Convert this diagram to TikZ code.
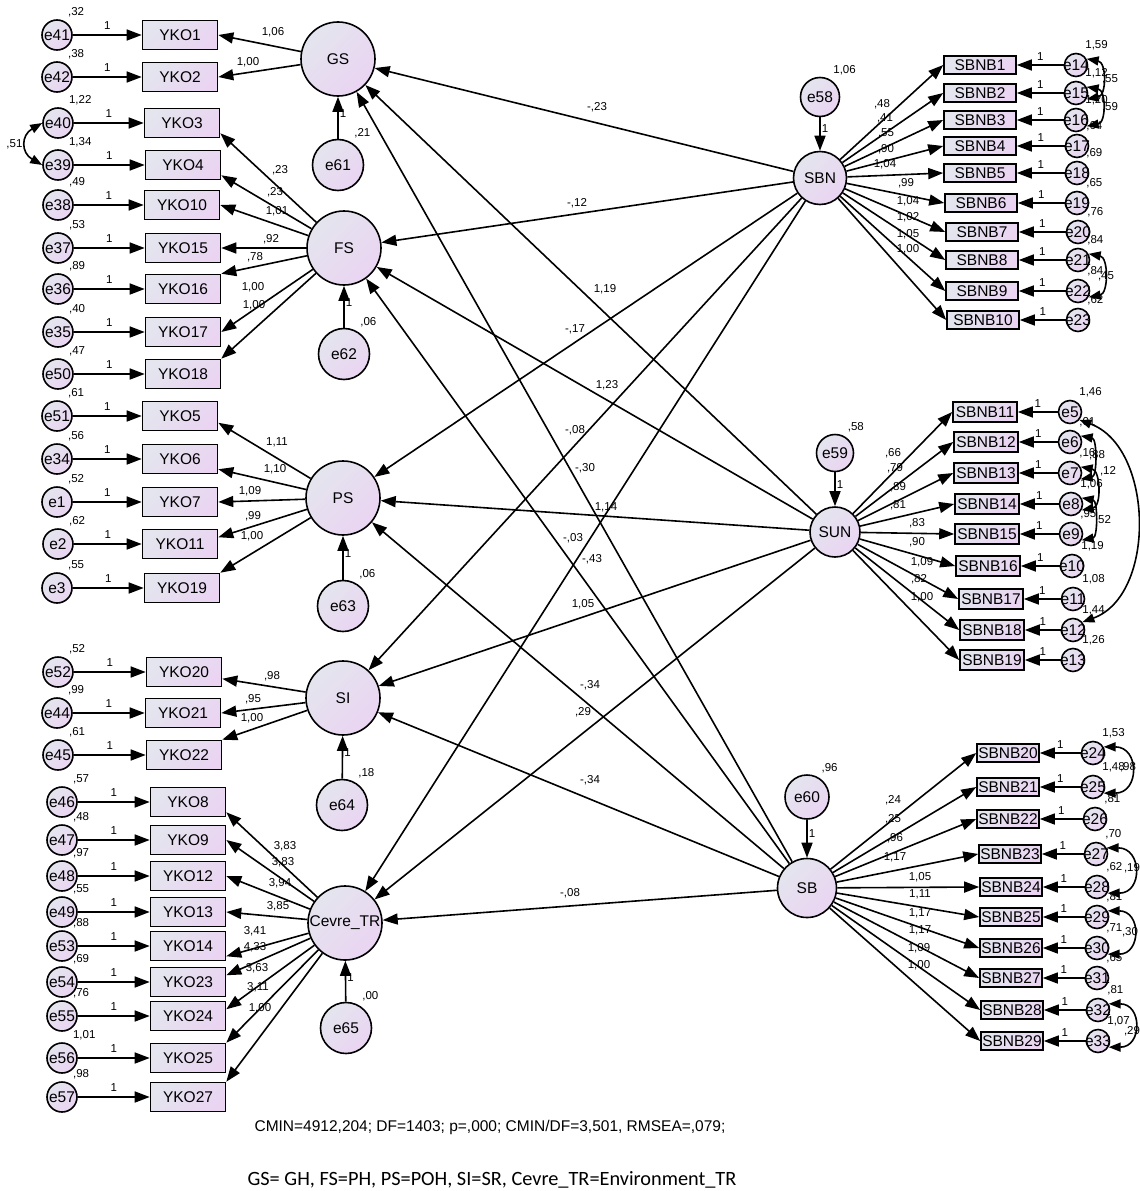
\documentclass[tikz,border=0pt]{standalone}
\usepackage{fontspec}
\setmainfont{Liberation Sans}
\newfontfamily\keyfont{Carlito}
\usetikzlibrary{arrows.meta,shapes}
\definecolor{fillL}{HTML}{E4E5EE}
\definecolor{fillR}{HTML}{EAD4F2}

\begin{document}
\begin{tikzpicture}[x=1pt, y=-1pt,
    latent/.style = {circle, draw, line width=1.6pt, top color=fillL, bottom color=fillR, shading angle=45, inner sep=0pt, font=\fontsize{15.5}{17}\selectfont},
    err/.style = {latent, minimum size=30pt, execute at begin node={\hbox to 0pt\bgroup\hss}, execute at end node={\hss\egroup}},
    errs/.style = {err, minimum size=23pt},
    ind/.style = {rectangle, draw, line width=1.6pt, top color=fillL, bottom color=fillR, shading angle=45, minimum width=75pt, minimum height=29pt, inner sep=1pt, font=\fontsize{15.5}{17}\selectfont},
    indr/.style = {ind, minimum width=72pt, minimum height=18pt, inner sep=0.5pt},
    inds/.style = {ind, minimum width=64pt, minimum height=20pt, inner sep=0.5pt},
    indt/.style = {ind, minimum width=62pt, minimum height=18pt, inner sep=0.5pt},
    lab/.style = {inner sep=1pt, font=\fontsize{11.5}{13}\selectfont},
    vlab/.style = {lab, anchor=south west, label distance=4pt, execute at begin node={}, execute at end node={}},
    arrow/.style = {line width=1.6pt, ->, >={Triangle[length=15pt,width=11pt]}},
    cov/.style = {line width=1.6pt, <->, >={Triangle[length=12pt,width=9pt]}}
]
\path[use as bounding box] (0,0) rectangle (1140,1191);

% Latent variables
\node[latent, minimum size=74pt] (gs) at (338,59) {GS};
\node[latent, minimum size=74pt] (fs) at (344,248) {FS};
\node[latent, minimum size=74pt] (ps) at (343,498) {PS};
\node[latent, minimum size=74pt] (si) at (343,698) {SI};
\node[latent, minimum size=74pt] (cevre) at (345,923) {Cevre\_TR};
\node[latent, minimum size=53pt] (sbn) at (820,178) {SBN};
\node[latent, minimum size=50pt] (sun) at (835,532) {SUN};
\node[latent, minimum size=59pt] (sb) at (807,888) {SB};

% Disturbances
\node[err, minimum size=51pt, label={[vlab]60:,21}] (e61) at (338,165) {e61};
\node[err, minimum size=51pt, label={[vlab]60:,06}] (e62) at (344,354) {e62};
\node[err, minimum size=51pt, label={[vlab]60:,06}] (e63) at (343,606) {e63};
\node[err, minimum size=51pt, label={[vlab]60:,18}] (e64) at (342,805) {e64};
\node[err, minimum size=51pt, label={[vlab]60:,00}] (e65) at (346,1028) {e65};
\node[err, minimum size=39pt, label={[vlab]60:1,06}] (e58) at (820,97) {e58};
\node[err, minimum size=37pt, label={[vlab]60:,58}] (e59) at (835,453) {e59};
\node[err, minimum size=44pt, label={[vlab]60:,96}] (e60) at (807,797) {e60};

% GS indicators
\node[err, label={[vlab]60:,32}] (e41) at (57,35) {e41};
\node[ind] (yko1) at (180,35) {YKO1};
\node[err, label={[vlab]60:,38}] (e42) at (57,77) {e42};
\node[ind] (yko2) at (180,77) {YKO2};

% FS indicators
\node[err, label={[vlab]60:1,22}] (e40) at (58,123) {e40};
\node[ind] (yko3) at (182,123) {YKO3};
\node[err, label={[vlab]60:1,34}] (e39) at (58,165) {e39};
\node[ind] (yko4) at (183,165) {YKO4};
\node[err, label={[vlab]60:,49}] (e38) at (58,205) {e38};
\node[ind] (yko10) at (182,205) {YKO10};
\node[err, label={[vlab]60:,53}] (e37) at (58,248) {e37};
\node[ind] (yko15) at (183,248) {YKO15};
\node[err, label={[vlab]60:,89}] (e36) at (58,289) {e36};
\node[ind] (yko16) at (183,289) {YKO16};
\node[err, label={[vlab]60:,40}] (e35) at (58,332) {e35};
\node[ind] (yko17) at (183,332) {YKO17};
\node[err, label={[vlab]60:,47}] (e50) at (58,374) {e50};
\node[ind] (yko18) at (183,374) {YKO18};

% PS indicators
\node[err, label={[vlab]60:,61}] (e51) at (57,416) {e51};
\node[ind] (yko5) at (180,416) {YKO5};
\node[err, label={[vlab]60:,56}] (e34) at (57,459) {e34};
\node[ind] (yko6) at (180,459) {YKO6};
\node[err, label={[vlab]60:,52}] (e1) at (57,502) {e1};
\node[ind] (yko7) at (180,502) {YKO7};
\node[err, label={[vlab]60:,62}] (e2) at (58,544) {e2};
\node[ind] (yko11) at (180,544) {YKO11};
\node[err, label={[vlab]60:,55}] (e3) at (57,588) {e3};
\node[ind] (yko19) at (182,588) {YKO19};

% SI indicators
\node[err, label={[vlab]60:,52}] (e52) at (58,672) {e52};
\node[ind] (yko20) at (184,672) {YKO20};
\node[err, label={[vlab]60:,99}] (e44) at (57,713) {e44};
\node[ind] (yko21) at (183,713) {YKO21};
\node[err, label={[vlab]60:,61}] (e45) at (58,755) {e45};
\node[ind] (yko22) at (184,755) {YKO22};

% Cevre_TR indicators
\node[err, label={[vlab]60:,57}] (e46) at (62,802) {e46};
\node[ind] (yko8) at (188,802) {YKO8};
\node[err, label={[vlab]60:,48}] (e47) at (62,840) {e47};
\node[ind] (yko9) at (188,840) {YKO9};
\node[err, label={[vlab]60:,97}] (e48) at (62,876) {e48};
\node[ind] (yko12) at (188,876) {YKO12};
\node[err, label={[vlab]60:,55}] (e49) at (62,912) {e49};
\node[ind] (yko13) at (188,912) {YKO13};
\node[err, label={[vlab]60:,88}] (e53) at (62,946) {e53};
\node[ind] (yko14) at (188,946) {YKO14};
\node[err, label={[vlab]60:,69}] (e54) at (62,982) {e54};
\node[ind] (yko23) at (188,982) {YKO23};
\node[err, label={[vlab]60:,76}] (e55) at (62,1016) {e55};
\node[ind] (yko24) at (188,1016) {YKO24};
\node[err, label={[vlab]60:1,01}] (e56) at (62,1058) {e56};
\node[ind] (yko25) at (188,1058) {YKO25};
\node[err, label={[vlab]60:,98}] (e57) at (62,1097) {e57};
\node[ind] (yko27) at (188,1097) {YKO27};

% SBN indicators
\node[indr] (sbnb1) at (980,65) {SBNB1};
\node[errs, label={[vlab]60:1,59}] (e14) at (1076,65) {e14};
\node[indr] (sbnb2) at (980,93) {SBNB2};
\node[errs, label={[vlab]60:1,12}] (e15) at (1076,93) {e15};
\node[indr] (sbnb3) at (980,120) {SBNB3};
\node[errs, label={[vlab]60:1,20}] (e16) at (1076,120) {e16};
\node[indr] (sbnb4) at (980,146) {SBNB4};
\node[errs, label={[vlab]60:,64}] (e17) at (1077,146) {e17};
\node[indr] (sbnb5) at (980,173) {SBNB5};
\node[errs, label={[vlab]60:,69}] (e18) at (1077,173) {e18};
\node[indr] (sbnb6) at (981,203) {SBNB6};
\node[errs, label={[vlab]60:,65}] (e19) at (1077,203) {e19};
\node[indr] (sbnb7) at (982,232) {SBNB7};
\node[errs, label={[vlab]60:,76}] (e20) at (1078,232) {e20};
\node[indr] (sbnb8) at (982,260) {SBNB8};
\node[errs, label={[vlab]60:,84}] (e21) at (1078,260) {e21};
\node[indr] (sbnb9) at (982,291) {SBNB9};
\node[errs, label={[vlab]60:,84}] (e22) at (1078,291) {e22};
\node[indr] (sbnb10) at (983,320) {SBNB10};
\node[errs, label={[vlab]60:,62}] (e23) at (1078,320) {e23};

% SUN indicators
\node[inds] (sbnb11) at (985,412) {SBNB11};
\node[errs, label={[vlab]60:1,46}] (e5) at (1070,412) {e5};
\node[inds] (sbnb12) at (986,442) {SBNB12};
\node[errs, label={[vlab]60:,01}] (e6) at (1070,442) {e6};
\node[inds] (sbnb13) at (986,473) {SBNB13};
\node[errs, label={[vlab]60:,16}] (e7) at (1070,473) {e7};
\node[inds] (sbnb14) at (987,504) {SBNB14};
\node[errs, label={[vlab]60:1,06}] (e8) at (1071,504) {e8};
\node[inds] (sbnb15) at (987,534) {SBNB15};
\node[errs, label={[vlab]60:,95}] (e9) at (1071,534) {e9};
\node[inds] (sbnb16) at (988,566) {SBNB16};
\node[errs, label={[vlab]60:1,19}] (e10) at (1072,566) {e10};
\node[inds] (sbnb17) at (991,599) {SBNB17};
\node[errs, label={[vlab]60:1,08}] (e11) at (1073,599) {e11};
\node[inds] (sbnb18) at (992,630) {SBNB18};
\node[errs, label={[vlab]60:1,44}] (e12) at (1073,630) {e12};
\node[inds] (sbnb19) at (992,660) {SBNB19};
\node[errs, label={[vlab]60:1,26}] (e13) at (1073,660) {e13};

% SB indicators
\node[indt] (sbnb20) at (1008,753) {SBNB20};
\node[errs, label={[vlab]60:1,53}] (e24) at (1093,753) {e24};
\node[indt] (sbnb21) at (1008,787) {SBNB21};
\node[errs, label={[vlab]60:1,48}] (e25) at (1093,787) {e25};
\node[indt] (sbnb22) at (1008,819) {SBNB22};
\node[errs, label={[vlab]60:,81}] (e26) at (1095,819) {e26};
\node[indt] (sbnb23) at (1010,854) {SBNB23};
\node[errs, label={[vlab]60:,70}] (e27) at (1096,854) {e27};
\node[indt] (sbnb24) at (1011,887) {SBNB24};
\node[errs, label={[vlab]60:,62}] (e28) at (1097,887) {e28};
\node[indt] (sbnb25) at (1011,917) {SBNB25};
\node[errs, label={[vlab]60:,81}] (e29) at (1097,917) {e29};
\node[indt] (sbnb26) at (1011,948) {SBNB26};
\node[errs, label={[vlab]60:,71}] (e30) at (1097,948) {e30};
\node[indt] (sbnb27) at (1011,978) {SBNB27};
\node[errs, label={[vlab]60:,65}] (e31) at (1097,978) {e31};
\node[indt] (sbnb28) at (1012,1010) {SBNB28};
\node[errs, label={[vlab]60:,81}] (e32) at (1098,1010) {e32};
\node[indt] (sbnb29) at (1012,1041) {SBNB29};
\node[errs, label={[vlab]60:1,07}] (e33) at (1098,1041) {e33};

% Fit indices
\node[font=\fontsize{15.5}{17}\selectfont] (fit) at (490,1127) {CMIN=4912,204; DF=1403; p=,000; CMIN/DF=3,501, RMSEA=,079;};
\node[font=\keyfont\fontsize{20.3}{23}\selectfont] (key) at (492,1180) {GS= GH, FS=PH, PS=POH, SI=SR, Cevre\_TR=Environment\_TR};

% Disturbance paths
\draw[arrow] (e61) -- node[lab, pos=0.6, right] {1} (gs);
\draw[arrow] (e62) -- node[lab, pos=0.6, right] {1} (fs);
\draw[arrow] (e63) -- node[lab, pos=0.6, right] {1} (ps);
\draw[arrow] (e64) -- node[lab, pos=0.6, right] {1} (si);
\draw[arrow] (e65) -- node[lab, pos=0.6, right] {1} (cevre);
\draw[arrow] (e58) -- node[lab, pos=0.35, right] {1} (sbn);
\draw[arrow] (e59) -- node[lab, pos=0.35, right] {1} (sun);
\draw[arrow] (e60) -- node[lab, pos=0.35, right] {1} (sb);

% Error paths, left
\draw[arrow] (e41) -- node[lab, above=4pt] {1} (yko1);
\draw[arrow] (e42) -- node[lab, above=4pt] {1} (yko2);
\draw[arrow] (e40) -- node[lab, above=4pt] {1} (yko3);
\draw[arrow] (e39) -- node[lab, above=4pt] {1} (yko4);
\draw[arrow] (e38) -- node[lab, above=4pt] {1} (yko10);
\draw[arrow] (e37) -- node[lab, above=4pt] {1} (yko15);
\draw[arrow] (e36) -- node[lab, above=4pt] {1} (yko16);
\draw[arrow] (e35) -- node[lab, above=4pt] {1} (yko17);
\draw[arrow] (e50) -- node[lab, above=4pt] {1} (yko18);
\draw[arrow] (e51) -- node[lab, above=4pt] {1} (yko5);
\draw[arrow] (e34) -- node[lab, above=4pt] {1} (yko6);
\draw[arrow] (e1) -- node[lab, above=4pt] {1} (yko7);
\draw[arrow] (e2) -- node[lab, above=4pt] {1} (yko11);
\draw[arrow] (e3) -- node[lab, above=4pt] {1} (yko19);
\draw[arrow] (e52) -- node[lab, above=4pt] {1} (yko20);
\draw[arrow] (e44) -- node[lab, above=4pt] {1} (yko21);
\draw[arrow] (e45) -- node[lab, above=4pt] {1} (yko22);
\draw[arrow] (e46) -- node[lab, above=4pt] {1} (yko8);
\draw[arrow] (e47) -- node[lab, above=4pt] {1} (yko9);
\draw[arrow] (e48) -- node[lab, above=4pt] {1} (yko12);
\draw[arrow] (e49) -- node[lab, above=4pt] {1} (yko13);
\draw[arrow] (e53) -- node[lab, above=4pt] {1} (yko14);
\draw[arrow] (e54) -- node[lab, above=4pt] {1} (yko23);
\draw[arrow] (e55) -- node[lab, above=4pt] {1} (yko24);
\draw[arrow] (e56) -- node[lab, above=4pt] {1} (yko25);
\draw[arrow] (e57) -- node[lab, above=4pt] {1} (yko27);
\draw[cov] (e40.west) to[out=210, in=150, looseness=1.5] node[lab, left=2pt] {,51} (e39.west);

% Loadings, left
\draw[arrow] (gs) -- (yko1.east) node[lab, at={(273,32)}] {1,06};
\draw[arrow] (gs) -- (yko2.east) node[lab, at={(248,62)}] {1,00};
\draw[arrow] (fs) -- (yko3.-15) node[lab, at={(280,170)}] {,23};
\draw[arrow] (fs) -- (yko4.-15) node[lab, at={(275,192)}] {,23};
\draw[arrow] (fs) -- (yko10.east) node[lab, at={(277,211)}] {1,01};
\draw[arrow] (fs) -- (yko15.east) node[lab, at={(271,239)}] {,92};
\draw[arrow] (fs) -- (yko16.north east) node[lab, at={(255,257)}] {,78};
\draw[arrow] (fs) -- (yko17.east) node[lab, at={(253,287)}] {1,00};
\draw[arrow] (fs) -- (yko18.north east) node[lab, at={(254,305)}] {1,00};
\draw[arrow] (ps) -- (yko5.-10) node[lab, at={(277,442)}] {1,11};
\draw[arrow] (ps) -- (yko6.-15) node[lab, at={(275,469)}] {1,10};
\draw[arrow] (ps) -- (yko7.east) node[lab, at={(250,491)}] {1,09};
\draw[arrow] (ps) -- (yko11.10) node[lab, at={(253,516)}] {,99};
\draw[arrow] (ps) -- (yko19.north east) node[lab, at={(252,536)}] {1,00};
\draw[arrow] (si) -- (yko20.-10) node[lab, at={(272,676)}] {,98};
\draw[arrow] (si) -- (yko21.east) node[lab, at={(253,699)}] {,95};
\draw[arrow] (si) -- (yko22.north east) node[lab, at={(252,718)}] {1,00};
\draw[arrow] (cevre) -- (yko8.-15) node[lab, at={(285,846)}] {3,83};
\draw[arrow] (cevre) -- (yko9.east) node[lab, at={(283,862)}] {3,83};
\draw[arrow] (cevre) -- (yko12.east) node[lab, at={(280,883)}] {3,94};
\draw[arrow] (cevre) -- (yko13.east) node[lab, at={(278,906)}] {3,85};
\draw[arrow] (cevre) -- (yko14.-15) node[lab, at={(255,931)}] {3,41};
\draw[arrow] (cevre) -- (yko23.10) node[lab, at={(255,947)}] {4,33};
\draw[arrow] (cevre) -- (yko24.10) node[lab, at={(257,968)}] {3,63};
\draw[arrow] (cevre) -- (yko25.north east) node[lab, at={(258,987)}] {3,11};
\draw[arrow] (cevre) -- (yko27.north east) node[lab, at={(260,1008)}] {1,00};

% Loadings, right
\draw[arrow] (sbn) -- (sbnb1.west) node[lab, at={(882,104)}] {,48};
\draw[arrow] (sbn) -- (sbnb2.west) node[lab, at={(885,118)}] {,41};
\draw[arrow] (sbn) -- (sbnb3.west) node[lab, at={(886,133)}] {,55};
\draw[arrow] (sbn) -- (sbnb4.west) node[lab, at={(886,149)}] {,90};
\draw[arrow] (sbn) -- (sbnb5.west) node[lab, at={(885,164)}] {1,04};
\draw[arrow] (sbn) -- (sbnb6.west) node[lab, at={(906,183)}] {,99};
\draw[arrow] (sbn) -- (sbnb7.west) node[lab, at={(908,201)}] {1,04};
\draw[arrow] (sbn) -- (sbnb8.west) node[lab, at={(908,217)}] {1,02};
\draw[arrow] (sbn) -- (sbnb9.west) node[lab, at={(908,234)}] {1,05};
\draw[arrow] (sbn) -- (sbnb10.west) node[lab, at={(908,249)}] {1,00};
\draw[arrow] (sun) -- (sbnb11.west) node[lab, at={(893,453)}] {,66};
\draw[arrow] (sun) -- (sbnb12.west) node[lab, at={(895,468)}] {,79};
\draw[arrow] (sun) -- (sbnb13.west) node[lab, at={(898,487)}] {,89};
\draw[arrow] (sun) -- (sbnb14.west) node[lab, at={(898,505)}] {,81};
\draw[arrow] (sun) -- (sbnb15.west) node[lab, at={(917,523)}] {,83};
\draw[arrow] (sun) -- (sbnb16.west) node[lab, at={(917,542)}] {,90};
\draw[arrow] (sun) -- (sbnb17.west) node[lab, at={(922,562)}] {1,09};
\draw[arrow] (sun) -- (sbnb18.west) node[lab, at={(919,579)}] {,82};
\draw[arrow] (sun) -- (sbnb19.west) node[lab, at={(922,597)}] {1,00};
\draw[arrow] (sb) -- (sbnb20.west) node[lab, at={(893,800)}] {,24};
\draw[arrow] (sb) -- (sbnb21.west) node[lab, at={(893,819)}] {,25};
\draw[arrow] (sb) -- (sbnb22.west) node[lab, at={(895,838)}] {,96};
\draw[arrow] (sb) -- (sbnb23.west) node[lab, at={(895,857)}] {1,17};
\draw[arrow] (sb) -- (sbnb24.west) node[lab, at={(920,877)}] {1,05};
\draw[arrow] (sb) -- (sbnb25.west) node[lab, at={(920,894)}] {1,11};
\draw[arrow] (sb) -- (sbnb26.west) node[lab, at={(920,913)}] {1,17};
\draw[arrow] (sb) -- (sbnb27.west) node[lab, at={(920,930)}] {1,17};
\draw[arrow] (sb) -- (sbnb28.west) node[lab, at={(919,948)}] {1,09};
\draw[arrow] (sb) -- (sbnb29.west) node[lab, at={(919,965)}] {1,00};

% Error paths, right
\draw[arrow] (e14) -- node[lab, above=3pt] {1} (sbnb1);
\draw[arrow] (e15) -- node[lab, above=3pt] {1} (sbnb2);
\draw[arrow] (e16) -- node[lab, above=3pt] {1} (sbnb3);
\draw[arrow] (e17) -- node[lab, above=3pt] {1} (sbnb4);
\draw[arrow] (e18) -- node[lab, above=3pt] {1} (sbnb5);
\draw[arrow] (e19) -- node[lab, above=3pt] {1} (sbnb6);
\draw[arrow] (e20) -- node[lab, above=3pt] {1} (sbnb7);
\draw[arrow] (e21) -- node[lab, above=3pt] {1} (sbnb8);
\draw[arrow] (e22) -- node[lab, above=3pt] {1} (sbnb9);
\draw[arrow] (e23) -- node[lab, above=3pt] {1} (sbnb10);
\draw[arrow] (e5) -- node[lab, above=3pt] {1} (sbnb11);
\draw[arrow] (e6) -- node[lab, above=3pt] {1} (sbnb12);
\draw[arrow] (e7) -- node[lab, above=3pt] {1} (sbnb13);
\draw[arrow] (e8) -- node[lab, above=3pt] {1} (sbnb14);
\draw[arrow] (e9) -- node[lab, above=3pt] {1} (sbnb15);
\draw[arrow] (e10) -- node[lab, above=3pt] {1} (sbnb16);
\draw[arrow] (e11) -- node[lab, above=3pt] {1} (sbnb17);
\draw[arrow] (e12) -- node[lab, above=3pt] {1} (sbnb18);
\draw[arrow] (e13) -- node[lab, above=3pt] {1} (sbnb19);
\draw[arrow] (e24) -- node[lab, above=3pt] {1} (sbnb20);
\draw[arrow] (e25) -- node[lab, above=3pt] {1} (sbnb21);
\draw[arrow] (e26) -- node[lab, above=3pt] {1} (sbnb22);
\draw[arrow] (e27) -- node[lab, above=3pt] {1} (sbnb23);
\draw[arrow] (e28) -- node[lab, above=3pt] {1} (sbnb24);
\draw[arrow] (e29) -- node[lab, above=3pt] {1} (sbnb25);
\draw[arrow] (e30) -- node[lab, above=3pt] {1} (sbnb26);
\draw[arrow] (e31) -- node[lab, above=3pt] {1} (sbnb27);
\draw[arrow] (e32) -- node[lab, above=3pt] {1} (sbnb28);
\draw[arrow] (e33) -- node[lab, above=3pt] {1} (sbnb29);

% Covariances, right
\draw[cov] (e14.30) to[out=-10, in=10, looseness=1.3] (e15.-30) node[lab, at={(1110,79)}] {,55};
\draw[cov] (e15.30) to[out=-10, in=10, looseness=1.3] (e16.-30) node[lab, at={(1110,107)}] {,59};
\draw[cov] (e21.30) to[out=-10, in=10, looseness=1.2] (e22.-30) node[lab, at={(1106,276)}] {,45};
\draw[cov] (e5.-40) to[out=-20, in=20, looseness=1] (e12.40);
\draw[cov] (e6.30) to[out=-10, in=10, looseness=1] (e7.-30) node[lab, at={(1097,455)}] {,88};
\draw[cov] (e7.30) to[out=-10, in=10, looseness=1.2] (e8.-30) node[lab, at={(1108,471)}] {,12};
\draw[cov] (e8.30) to[out=-10, in=10, looseness=1] (e9.-30) node[lab, at={(1103,520)}] {,52};
\draw[cov] (e24.30) to[out=0, in=0, looseness=2] (e25.-30) node[lab, at={(1128,767)}] {,98};
\draw[cov] (e27.30) to[out=0, in=0, looseness=2] (e28.-30) node[lab, at={(1132,868)}] {,19};
\draw[cov] (e29.30) to[out=0, in=0, looseness=2] (e30.-30) node[lab, at={(1130,932)}] {,30};
\draw[cov] (e32.30) to[out=0, in=0, looseness=2] (e33.-30) node[lab, at={(1132,1031)}] {,29};

% Structural paths
\draw[arrow] (sbn) -- (gs) node[lab, at={(597,107)}] {-,23};
\draw[arrow] (sbn) -- (fs) node[lab, at={(577,203)}] {-,12};
\draw[arrow] (sbn) -- (ps) node[lab, at={(575,329)}] {-,17};
\draw[arrow] (sbn) -- (si) node[lab, at={(575,430)}] {-,08};
\draw[arrow] (sbn) -- (cevre) node[lab, at={(592,559)}] {-,43};
\draw[arrow] (sun) -- (gs) node[lab, at={(605,289)}] {1,19};
\draw[arrow] (sun) -- (fs) node[lab, at={(607,385)}] {1,23};
\draw[arrow] (sun) -- (ps) node[lab, at={(606,507)}] {1,14};
\draw[arrow] (sun) -- (si) node[lab, at={(583,604)}] {1,05};
\draw[arrow] (sun) -- (cevre) node[lab, at={(583,712)}] {,29};
\draw[arrow] (sb) -- (gs) node[lab, at={(585,468)}] {-,30};
\draw[arrow] (sb) -- (fs) node[lab, at={(573,538)}] {-,03};
\draw[arrow] (sb) -- (ps) node[lab, at={(590,685)}] {-,34};
\draw[arrow] (sb) -- (si) node[lab, at={(590,780)}] {-,34};
\draw[arrow] (sb) -- (cevre) node[lab, at={(570,893)}] {-,08};

\end{tikzpicture}
\end{document}
